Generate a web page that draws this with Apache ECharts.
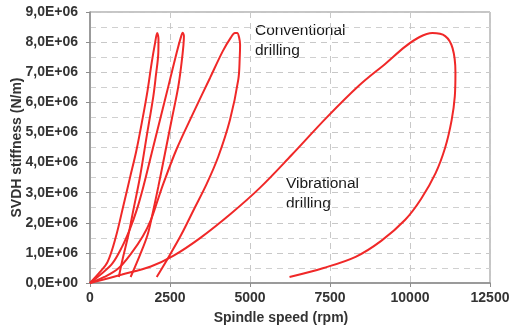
<!DOCTYPE html>
<html>
<head>
<meta charset="utf-8">
<script src="https://cdn.jsdelivr.net/npm/echarts@6/dist/echarts.min.js"></script>
<style>
  html, body { margin: 0; padding: 0; background: #fff; }
  #main { width: 509px; height: 328px; }
</style>
</head>
<body>
<div id="main"></div>
<script>
// spindle speed (rpm) / SVDH stiffness (N/m)
const loopA = [
  [0, 0], [300, 0.35e6], [550, 0.7e6], [800, 1.5e6], [1050, 2.6e6], [1250, 3.5e6],
  [1450, 4.4e6], [1650, 5.5e6], [1800, 6.4e6], [1927, 7.31e6], [2030, 7.95e6], [2100, 8.3e6],
  [2140, 8.1e6], [2135, 7.65e6], [2060, 6.9e6], [1979, 6.2e6], [1771, 4.87e6],
  [1563, 3.53e6], [1354, 2.42e6], [1200, 1.6e6], [1020, 0.8e6], [900, 0.2e6]
];
const loopB = [
  [0, 0], [350, 0.3e6], [700, 0.65e6], [1000, 1.2e6], [1250, 1.8e6], [1458, 2.42e6],
  [1667, 3.2e6], [1927, 4.31e6], [2188, 5.42e6], [2448, 6.53e6], [2708, 7.65e6],
  [2850, 8.2e6], [2896, 8.31e6],
  [2935, 8.2e6], [2920, 7.9e6], [2860, 7.3e6], [2760, 6.53e6], [2552, 5.42e6],
  [2344, 4.31e6], [2135, 3.2e6], [1979, 2.42e6], [1800, 1.6e6], [1550, 0.9e6], [1270, 0.2e6]
];
const loopC = [
  [0, 0], [450, 0.2e6], [900, 0.5e6], [1300, 1.0e6], [1650, 1.55e6], [1900, 2.09e6],
  [2100, 2.7e6], [2292, 3.3e6], [2708, 4.45e6], [3229, 5.65e6], [3750, 6.81e6],
  [4150, 7.7e6], [4400, 8.15e6], [4530, 8.3e6], [4600, 8.3e6],
  [4660, 8.15e6], [4690, 7.9e6], [4680, 7.5e6], [4635, 6.76e6], [4375, 5.42e6],
  [4010, 4.2e6], [3650, 3.3e6], [3250, 2.45e6], [2850, 1.6e6], [2450, 0.85e6], [2085, 0.2e6]
];
const loopVib = [
  [0, 0], [1000, 0.28e6], [1900, 0.55e6], [2600, 0.9e6], [3450, 1.5e6], [4400, 2.3e6],
  [5300, 3.15e6], [6300, 4.25e6], [7400, 5.5e6], [8400, 6.55e6], [9250, 7.3e6],
  [9850, 7.85e6], [10300, 8.17e6], [10700, 8.3e6],
  [11100, 8.2e6], [11330, 7.8e6], [11420, 7.0e6], [11400, 6.2e6], [11300, 5.4e6],
  [11100, 4.5e6], [10800, 3.65e6], [10350, 2.8e6], [9850, 2.1e6], [9100, 1.4e6],
  [8300, 0.87e6], [7300, 0.5e6], [6235, 0.2e6]
];
const loops = [loopA, loopB, loopC, loopVib];

const xTicks = [0, 2500, 5000, 7500, 10000, 12500];
const yMax = 9e6;

const chart = echarts.init(document.getElementById('main'));

function sciLabel(v) {
  if (v === 0) return '0,0E+00';
  return (v / 1e6).toFixed(1).replace('.', ',') + 'E+06';
}

const labelFont = {
  color: '#333333',
  fontFamily: 'Liberation Sans',
  fontWeight: 'bold',
  fontSize: 14
};

var option = {
  backgroundColor: '#ffffff',
  animation: false,
  grid: {
    left: 90, right: 19, top: 12, bottom: 45,
    outerBoundsMode: 'none',
    show: true,
    borderColor: '#8c8c8c',
    borderWidth: 1
  },
  xAxis: {
    type: 'value',
    min: xTicks[0],
    max: xTicks[xTicks.length - 1],
    interval: 2500,
    name: 'Spindle speed (rpm)',
    nameLocation: 'middle',
    nameGap: 28,
    nameMoveOverlap: false,
    nameTextStyle: Object.assign({}, labelFont, { padding: [0, 18, 0, 0] }),
    axisLine: { lineStyle: { color: '#8c8c8c', width: 1.5 } },
    axisTick: { show: true, length: 4, lineStyle: { color: '#8c8c8c' } },
    axisLabel: Object.assign({}, labelFont, { margin: 8, formatter: function (v) { return String(v); } }),
    splitLine: { lineStyle: { color: '#c8c8c8', type: [6, 5] } }
  },
  yAxis: {
    type: 'value',
    min: 0,
    max: yMax,
    interval: 1e6,
    name: 'SVDH stiffness (N/m)',
    nameLocation: 'middle',
    nameGap: 66,
    nameMoveOverlap: false,
    nameTextStyle: labelFont,
    axisLine: { show: true, lineStyle: { color: '#8c8c8c', width: 1.5 } },
    axisTick: { show: true, length: 4, lineStyle: { color: '#8c8c8c' } },
    axisLabel: Object.assign({}, labelFont, { margin: 12, formatter: sciLabel }),
    splitLine: { lineStyle: { color: '#c8c8c8', type: [6, 5] } },
    minorTick: { show: false, splitNumber: 2 },
    minorSplitLine: { show: true, lineStyle: { color: '#d0d0d0', type: [6, 5] } }
  },
  graphic: [
    {
      type: 'text', left: 255, top: 21,
      style: { text: 'Conventional\ndrilling', font: '15.5px Liberation Sans', fill: '#1a1a1a', lineHeight: 20 }
    },
    {
      type: 'text', left: 286, top: 174,
      style: { text: 'Vibrational\ndrilling', font: '15.5px Liberation Sans', fill: '#1a1a1a', lineHeight: 20 }
    }
  ],
  series: loops.map(function (d) {
    return {
      type: 'line',
      data: d,
      smooth: 0.35,
      showSymbol: false,
      lineStyle: { color: '#f02828', width: 2 }
    };
  })
};

chart.setOption(option);
</script>
</body>
</html>
